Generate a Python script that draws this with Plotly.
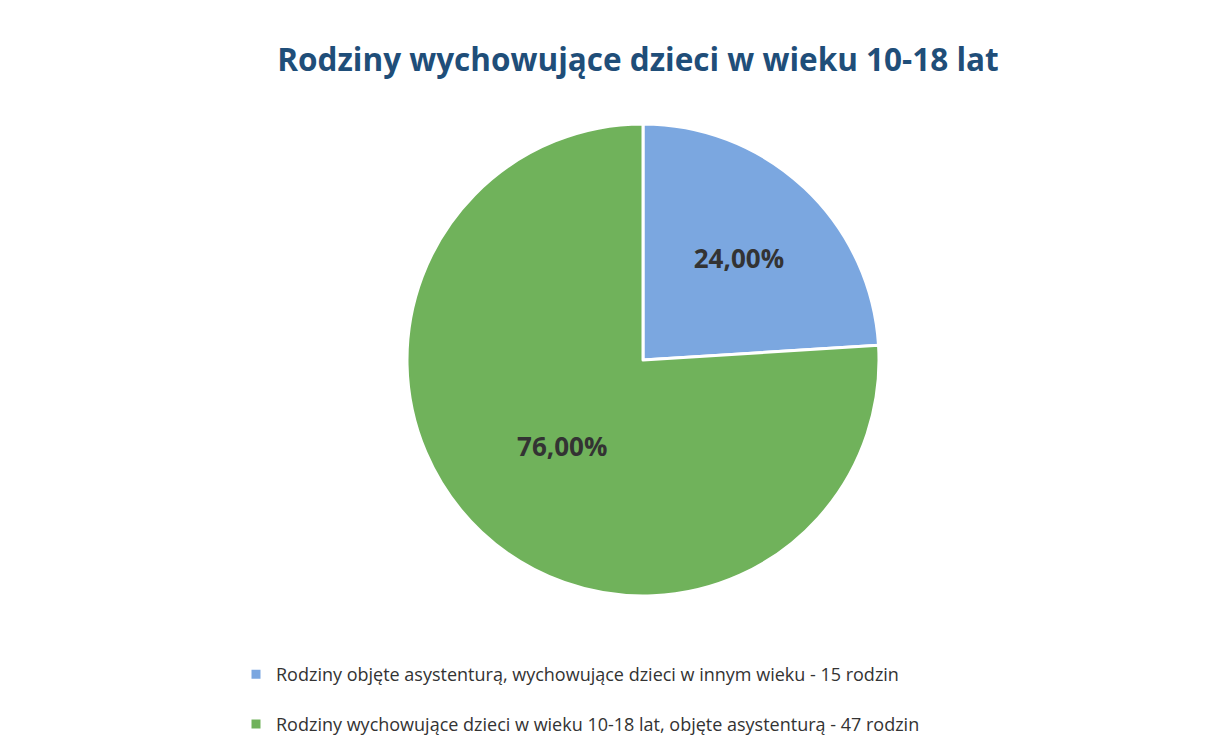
import plotly.graph_objects as go

labels = [
    "Rodziny objęte asystenturą, wychowujące dzieci w innym wieku - 15 rodzin",
    "Rodziny wychowujące dzieci w wieku 10-18 lat, objęte asystenturą - 47 rodzin",
]
values = [24.00, 76.00]
colors = ["#7BA7E0", "#70B25B"]
title = "Rodziny wychowujące dzieci w wieku 10-18 lat"

W, H = 1212, 747
cx, cy, r = 635, 352, 236

# extra blank line after first legend entry to widen legend spacing
legend_labels = [labels[0] + "<br> ", labels[1]]

fig = go.Figure(go.Pie(
    labels=legend_labels,
    values=values,
    sort=False,
    direction="clockwise",
    rotation=0,
    marker=dict(colors=colors, line=dict(color="white", width=3)),
    texttemplate="%{value:.2f}%",
    textposition="inside",
    insidetextorientation="horizontal",
    textfont=dict(family="Open Sans", size=26, color="#333333", weight="bold"),
    hoverinfo="label+value",
    domain=dict(x=[(cx - r) / W, (cx + r) / W], y=[1 - (cy + r) / H, 1 - (cy - r) / H]),
))

fig.update_layout(
    width=W, height=H,
    margin=dict(l=0, r=0, t=0, b=0),
    paper_bgcolor="white",
    separators=", ",
    title=dict(text=title, x=630 / W, xanchor="center", y=1 - 52 / H, yanchor="middle",
               font=dict(family="Open Sans", size=31.5, color="#1F4E79", weight="bold")),
    showlegend=True,
    legend=dict(x=228 / W, y=1 - 648 / H, xanchor="left", yanchor="top", valign="top",
                font=dict(family="Open Sans", size=18, color="#333333"),
                bgcolor="rgba(0,0,0,0)"),
)

fig.write_html("out.html")
